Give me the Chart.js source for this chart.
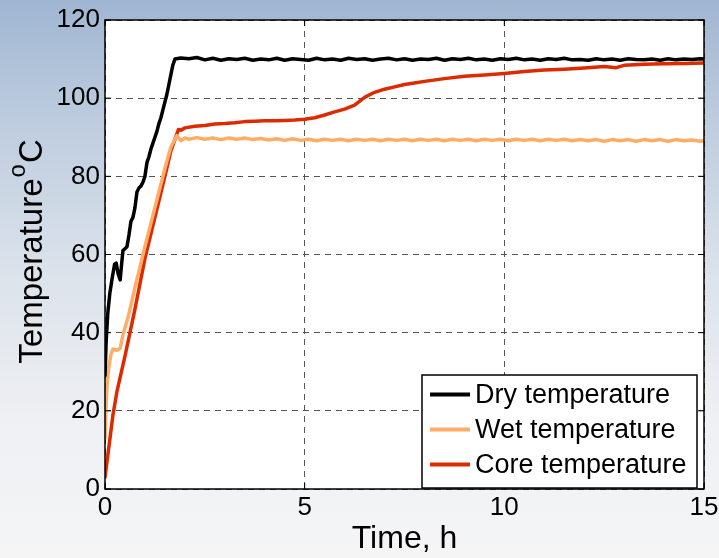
<!DOCTYPE html>
<html>
<head>
<meta charset="utf-8">
<script src="https://cdn.jsdelivr.net/npm/chart.js@4"></script>
<style>
  html, body { margin: 0; padding: 0; }
  body {
    width: 719px; height: 558px; overflow: hidden;
    background: linear-gradient(to bottom, #9fb5d1 0%, #b9c9dd 18%, #dde3eb 50%, #eef0f3 75%, #f5f5f6 100%);
  }
  #wrap { position: relative; width: 719px; height: 558px; }
</style>
</head>
<body>
<div id="wrap"><canvas id="grafico" width="719" height="558"></canvas></div>
<script>
// tempo (h) e temperaturas
const dryTime = [0, 0.03, 0.07, 0.12, 0.18, 0.24, 0.28, 0.33, 0.38, 0.42, 0.45, 0.5,
  0.55, 0.6, 0.65, 0.7, 0.75, 0.8, 0.85, 0.9, 0.95, 1.0, 1.05, 1.1, 1.15, 1.2, 1.25,
  1.3, 1.35, 1.4, 1.45, 1.5, 1.55, 1.6, 1.65, 1.7, 1.75,
  1.9, 2.1, 2.3, 2.5, 2.7, 2.9, 3.1, 3.3, 3.5, 3.7, 3.9, 4.1, 4.3, 4.5, 4.7, 4.9,
  5.1, 5.3, 5.5, 5.7, 5.9, 6.1, 6.3, 6.5, 6.7, 6.9, 7.1, 7.3, 7.5, 7.7, 7.9, 8.1,
  8.3, 8.5, 8.7, 8.9, 9.1, 9.3, 9.5, 9.7, 9.9, 10.1, 10.3, 10.5, 10.7, 10.9, 11.1,
  11.3, 11.5, 11.7, 11.9, 12.1, 12.3, 12.5, 12.7, 12.9, 13.1, 13.3, 13.5, 13.7, 13.9,
  14.1, 14.3, 14.5, 14.7, 14.9, 15];
const dryTemp = [29, 38, 45, 50, 54, 57.5, 57.8, 55, 53.5, 58, 61, 61.5,
  62, 65, 68.5, 69.5, 72, 76, 77, 77.5, 78.5, 80, 83.5, 85, 87, 88.5, 90,
  91.5, 93.5, 95, 97, 99, 101, 103.5, 106, 108.5, 110,
  110.3, 110.1, 110.4, 109.8, 110.2, 109.7, 110.1, 109.9, 110.2, 109.7,
  110.0, 109.8, 110.2, 109.7, 110.1, 109.9, 109.7, 110.2, 109.8, 110.0,
  109.7, 110.2, 109.9, 110.1, 109.7, 110.0, 110.2, 109.8, 110.1, 109.7,
  110.0, 109.9, 110.2, 109.7, 110.1, 109.9, 110.2, 109.8, 110.0, 109.7,
  110.1, 109.9, 110.2, 109.8, 110.0, 109.7, 110.1, 109.9, 110.2, 109.8,
  109.9, 109.7, 110.1, 109.8, 110.0, 109.7, 110.1, 109.9, 109.8, 110.0,
  109.7, 110.1, 109.8, 110.0, 109.9, 110.1, 110.0];

const wetTime = [0, 0.03, 0.06, 0.1, 0.15, 0.2, 0.3, 0.38, 0.45, 0.58, 0.75, 1.0,
  1.25, 1.5, 1.65, 1.8, 1.9, 2.0,
  2.1, 2.3, 2.5, 2.7, 2.9, 3.1, 3.3, 3.5, 3.7, 3.9, 4.1, 4.3, 4.5, 4.7, 4.9,
  5.1, 5.3, 5.5, 5.7, 5.9, 6.1, 6.3, 6.5, 6.7, 6.9, 7.1, 7.3, 7.5, 7.7, 7.9, 8.1,
  8.3, 8.5, 8.7, 8.9, 9.1, 9.3, 9.5, 9.7, 9.9, 10.1, 10.3, 10.5, 10.7, 10.9, 11.1,
  11.3, 11.5, 11.7, 11.9, 12.1, 12.3, 12.5, 12.7, 12.9, 13.1, 13.3, 13.5, 13.7, 13.9,
  14.1, 14.3, 14.5, 14.7, 14.9, 15];
const wetTemp = [13, 22, 28, 31.5, 34.5, 35.8, 35.5, 36, 39.5, 44, 51.5, 62,
  72, 82, 87.5, 90.4, 89.1, 89.8,
  89.5, 89.9, 89.5, 89.8, 89.4, 89.8, 89.5, 89.8, 89.4, 89.7,
  89.3, 89.6, 89.2, 89.6, 89.2, 89.5, 89.1, 89.5, 89.2, 89.5,
  89.1, 89.5, 89.2, 89.5, 89.1, 89.5, 89.2, 89.5, 89.1, 89.5,
  89.2, 89.5, 89.1, 89.5, 89.2, 89.5, 89.1, 89.5, 89.2, 89.5,
  89.1, 89.5, 89.2, 89.5, 89.1, 89.5, 89.2, 89.5, 89.1, 89.4,
  89.1, 89.4, 89.0, 89.4, 89.1, 89.4, 89.0, 89.4, 89.1, 89.4,
  89.0, 89.4, 89.1, 89.3, 89.0, 89.1];

const coreTime = [0, 0.05, 0.125, 0.2, 0.3, 0.5, 0.75, 1.0, 1.25, 1.5, 1.65, 1.84,
  1.9, 2.0, 2.25, 2.5, 2.75, 3.0, 3.25, 3.5, 3.75, 4.0,
  4.25, 4.5, 4.75, 5.0, 5.25, 5.5, 5.75, 6.0, 6.25, 6.5,
  6.75, 7.0, 7.25, 7.5, 7.75, 8.0, 8.5, 9.0, 9.5, 10.0,
  10.5, 11.0, 11.5, 12.0, 12.5, 12.8, 13.0, 13.5, 14.0, 14.5, 15.0];
const coreTemp = [3, 7, 13, 19, 25, 34, 46, 59, 69.5, 80, 86.5, 92,
  91.8, 92.4, 92.8, 93, 93.4, 93.5, 93.7, 94, 94.1, 94.2,
  94.2, 94.3, 94.4, 94.6, 95, 95.7, 96.5, 97.2, 98.2, 100.2,
  101.5, 102.3, 102.9, 103.5, 103.9, 104.3, 105, 105.6, 105.9, 106.3,
  106.8, 107.2, 107.4, 107.7, 108.1, 107.8, 108.4, 108.7, 108.8, 108.9, 109];

const serieNomes = ["Dry temperature", "Wet temperature", "Core temperature"];
const serieCores = ["#000000", "#ffad66", "#dd2a00"];
const xTicks = [0, 5, 10, 15];
const yTicks = [0, 20, 40, 60, 80, 100, 120];

const FONTE = "'Liberation Sans', Arial, sans-serif";

function pontos(t, v) {
  return t.map((x, i) => ({ x: x, y: v[i] }));
}

// fundo branco da área do gráfico, moldura, marcas internas, título Y e legenda
const moldura = {
  id: "moldura",
  beforeDraw(chart) {
    const { ctx, chartArea: a } = chart;
    ctx.save();
    ctx.fillStyle = "#ffffff";
    ctx.fillRect(a.left, a.top, a.right - a.left, a.bottom - a.top);
    ctx.restore();
  },
  afterDraw(chart) {
    const { ctx, chartArea: a, scales } = chart;
    ctx.save();
    ctx.strokeStyle = "#000";
    ctx.lineWidth = 1.5;
    ctx.strokeRect(a.left, a.top, a.right - a.left, a.bottom - a.top);

    ctx.lineWidth = 1;
    ctx.beginPath();
    xTicks.forEach(v => {
      const px = scales.x.getPixelForValue(v);
      ctx.moveTo(px, a.bottom); ctx.lineTo(px, a.bottom - 6);
      ctx.moveTo(px, a.top); ctx.lineTo(px, a.top + 6);
    });
    yTicks.forEach(v => {
      const py = scales.y.getPixelForValue(v);
      ctx.moveTo(a.left, py); ctx.lineTo(a.left + 6, py);
      ctx.moveTo(a.right, py); ctx.lineTo(a.right - 6, py);
    });
    ctx.stroke();

    // título do eixo Y com "o" sobrescrito
    const meio = (a.top + a.bottom) / 2 - 3;
    ctx.fillStyle = "#000";
    ctx.textBaseline = "alphabetic";
    ctx.textAlign = "left";
    ctx.font = "33px " + FONTE;
    const w1 = ctx.measureText("Temperature").width;
    const wC = ctx.measureText("C").width;
    ctx.font = "24px " + FONTE;
    const wo = ctx.measureText("o").width;
    const total = w1 + wo + wC + 2;
    ctx.translate(42, meio);
    ctx.rotate(-Math.PI / 2);
    let x0 = -total / 2;
    ctx.font = "33px " + FONTE;
    ctx.fillText("Temperature", x0, 0);
    x0 += w1 + 1;
    ctx.font = "24px " + FONTE;
    ctx.fillText("o", x0, -17);
    x0 += wo + 1;
    ctx.font = "33px " + FONTE;
    ctx.fillText("C", x0, 0);
    ctx.restore();

    // legenda
    ctx.save();
    const bx = 422, by = 375, bw = 275, bh = 113;
    ctx.fillStyle = "#fff";
    ctx.fillRect(bx, by, bw, bh);
    ctx.strokeStyle = "#000";
    ctx.lineWidth = 1.5;
    ctx.strokeRect(bx, by, bw, bh);
    ctx.font = "27px " + FONTE;
    ctx.textBaseline = "middle";
    chart.data.datasets.forEach((ds, i) => {
      const cy = 394.5 + i * 35;
      ctx.strokeStyle = ds.borderColor;
      ctx.lineWidth = 4;
      ctx.beginPath();
      ctx.moveTo(430, cy); ctx.lineTo(470, cy);
      ctx.stroke();
      ctx.fillStyle = "#000";
      ctx.fillText(ds.label, 475, cy + 1);
    });
    ctx.restore();
  }
};

new Chart(document.getElementById("grafico"), {
  type: "line",
  data: {
    datasets: [
      { label: serieNomes[0], data: pontos(dryTime, dryTemp), borderColor: serieCores[0] },
      { label: serieNomes[1], data: pontos(wetTime, wetTemp), borderColor: serieCores[1] },
      { label: serieNomes[2], data: pontos(coreTime, coreTemp), borderColor: serieCores[2] }
    ]
  },
  options: {
    responsive: false,
    animation: false,
    layout: { padding: { top: 20, right: 15, left: 0, bottom: 0 } },
    elements: {
      point: { radius: 0 },
      line: { borderWidth: 3.5, tension: 0, borderCapStyle: "round", borderJoinStyle: "round" }
    },
    plugins: {
      legend: { display: false },
      tooltip: { enabled: false }
    },
    scales: {
      x: {
        type: "linear",
        min: 0, max: 15,
        afterFit(s) { s.height = 69; s.paddingLeft = 0; s.paddingRight = 0; },
        afterBuildTicks(s) { s.ticks = xTicks.map(v => ({ value: v })); },
        ticks: { color: "#000", font: { family: FONTE, size: 26 }, padding: 3, maxRotation: 0 },
        grid: { color: "#555", lineWidth: 1, drawTicks: false },
        border: { display: false, dash: [6, 5] },
        title: { display: true, text: "Time, h", color: "#000", font: { family: FONTE, size: 32 }, padding: { top: 2, bottom: 0 } }
      },
      y: {
        min: 0, max: 120,
        afterFit(s) { s.width = 105; s.paddingTop = 0; s.paddingBottom = 0; },
        afterBuildTicks(s) { s.ticks = yTicks.map(v => ({ value: v })); },
        ticks: { color: "#000", font: { family: FONTE, size: 26 }, padding: 5 },
        grid: { color: "#555", lineWidth: 1, drawTicks: false },
        border: { display: false, dash: [6, 5] }
      }
    }
  },
  plugins: [moldura]
});
</script>
</body>
</html>
